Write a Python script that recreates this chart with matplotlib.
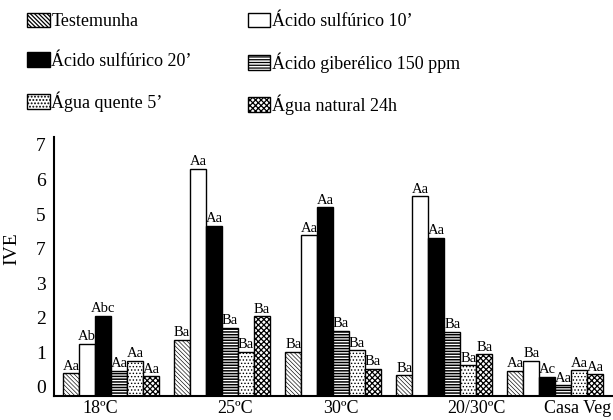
import numpy as np
import matplotlib.pyplot as plt

plt.rcParams['font.family'] = ['Liberation Serif', 'DejaVu Serif']

temperaturas = ['18ºC', '25ºC', '30ºC', '20/30ºC', 'Casa Veg']
tratamentos = ['Testemunha', 'Ácido sulfúrico 10’', 'Ácido sulfúrico 20’',
               'Ácido giberélico 150 ppm', 'Água quente 5’', 'Água natural 24h']

# IVE por tratamento e temperatura
ive_testemunha = [0.66, 1.63, 1.28, 0.60, 0.72]
ive_sulf10 = [1.51, 6.58, 4.65, 5.78, 1.01]
ive_sulf20 = [2.32, 4.92, 5.46, 4.57, 0.55]
ive_giber = [0.73, 1.98, 1.88, 1.85, 0.31]
ive_quente = [1.01, 1.27, 1.32, 0.89, 0.74]
ive_natural = [0.57, 2.31, 0.79, 1.21, 0.63]

letras_testemunha = ['Aa', 'Ba', 'Ba', 'Ba', 'Aa']
letras_sulf10 = ['Ab', 'Aa', 'Aa', 'Aa', 'Ba']
letras_sulf20 = ['Abc', 'Aa', 'Aa', 'Aa', 'Ac']
letras_giber = ['Aa', 'Ba', 'Ba', 'Ba', 'Aa']
letras_quente = ['Aa', 'Ba', 'Ba', 'Ba', 'Aa']
letras_natural = ['Aa', 'Ba', 'Ba', 'Ba', 'Aa']

rotulos_y = ['0', '1', '2', '3', '7', '5', '6', '7']

series = [ive_testemunha, ive_sulf10, ive_sulf20, ive_giber, ive_quente, ive_natural]
letras = [letras_testemunha, letras_sulf10, letras_sulf20, letras_giber,
          letras_quente, letras_natural]
# (cor, hachura, espessura da hachura)
estilos = [
    ('white', '\\' * 8, 0.45),
    ('white', None, 0.6),
    ('black', None, 0.6),
    ('white', '-' * 6, 1.1),
    ('white', '.' * 5, 0.6),
    ('white', 'x' * 6, 0.9),
]

fig = plt.figure(figsize=(6.13, 4.2), dpi=100)
ax = fig.add_axes([54 / 613, 24 / 420, 559 / 613, 259 / 420])

x = np.arange(len(temperaturas))
largura = 0.144
barras = []
for i, (valores, (cor, hach, lw)) in enumerate(zip(series, estilos)):
    plt.rcParams['hatch.linewidth'] = lw
    pos = x + (i - 2.5) * largura
    b = ax.bar(pos, valores, largura, color=cor, hatch=hach, edgecolor='black',
               linewidth=1.0, label=tratamentos[i])
    barras.append(b)
    for px, v, t in zip(pos, valores, letras[i]):
        ax.text(px, v + 0.02, t, ha='center', va='bottom', fontsize=10.5)

ax.set_xlim(-0.514, 4.52)
ax.set_ylim(0, 7.5)
ax.spines['top'].set_visible(False)
ax.spines['right'].set_visible(False)
ax.spines['left'].set_linewidth(1.5)
ax.spines['bottom'].set_linewidth(1.5)

ax.set_yticks(np.arange(len(rotulos_y)) + 0.27)
ax.set_yticklabels(rotulos_y, fontsize=14)
ax.set_xticks([-0.10, 1.12, 2.07, 3.29, 4.20])
ax.set_xticklabels(temperaturas, fontsize=13)
ax.tick_params(axis='both', length=0)
ax.tick_params(axis='y', pad=6)
ax.tick_params(axis='x', pad=3)
ax.set_ylabel('IVE', fontsize=14)
ax.yaxis.set_label_coords(-0.06, 0.57)

ordem = [0, 2, 4, 1, 3, 5]
fig.legend([barras[i] for i in ordem], [tratamentos[i] for i in ordem],
           ncol=2, loc='upper left', bbox_to_anchor=(27 / 613, 1 - 13 / 420),
           frameon=False, fontsize=13, handlelength=1.25, handleheight=0.85,
           handletextpad=0.1, labelspacing=1.2, columnspacing=3.1,
           borderpad=0, borderaxespad=0)

fig.savefig('out.png', dpi=100)
